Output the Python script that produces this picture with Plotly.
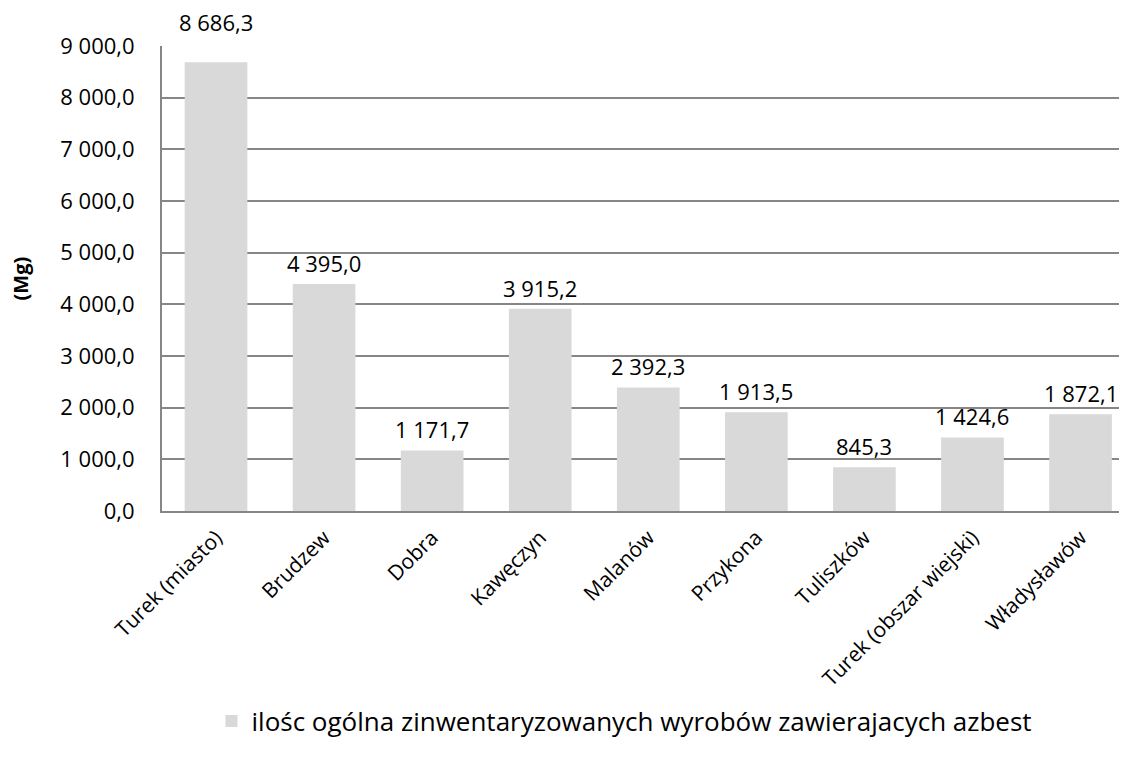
import plotly.graph_objects as go

categories = ["Turek (miasto)", "Brudzew", "Dobra", "Kawęczyn", "Malanów",
              "Przykona", "Tuliszków", "Turek (obszar wiejski)", "Władysławów"]
values = [8686.3, 4395.0, 1171.7, 3915.2, 2392.3, 1913.5, 845.3, 1424.6, 1872.1]
series_name = "ilośc ogólna zinwentaryzowanych wyrobów zawierajacych azbest"
y_ticks = [0, 1000, 2000, 3000, 4000, 5000, 6000, 7000, 8000, 9000]


def fmt(v):
    s = f"{v:,.1f}"
    return s.replace(",", " ").replace(".", ",")


FONT = "Open Sans"
OFF = 8  # page body margin
W, H = 1127 - OFF, 762 - OFF
L, T = 162 - OFF, 46 - OFF
B = H - (511 - OFF)
plot_w = W - L
plot_h = H - T - B

fig = go.Figure()
fig.add_trace(go.Bar(
    x=categories, y=values, name=series_name,
    marker=dict(color="#d9d9d9", line=dict(width=0)),
    cliponaxis=False,
))

annotations = []
for i, (c, v) in enumerate(zip(categories, values)):
    annotations.append(dict(
        x=c, y=v, xref="x", yref="y", text=fmt(v), showarrow=False,
        xanchor="center", yanchor="middle", yshift=40 if i == 0 else 21,
        font=dict(family=FONT, size=22, color="#000000")))
annotations.append(dict(text="<b>(Mg)</b>", xref="paper", yref="paper",
                        x=(20 - 162) / plot_w, y=0.5, xanchor="center", yanchor="middle",
                        textangle=-90, showarrow=False,
                        font=dict(family=FONT, size=20, color="#000000")))

fig.update_layout(
    width=W, height=H,
    margin=dict(l=L, r=0, t=T, b=B, autoexpand=False),
    paper_bgcolor="white", plot_bgcolor="white",
    bargap=0.42,
    font=dict(family=FONT, size=22, color="#000000"),
    showlegend=True,
    legend=dict(orientation="h", x=0.5 - 20 / plot_w, xanchor="center",
                y=(511 - 721) / plot_h, yanchor="middle",
                font=dict(family=FONT, size=26), itemwidth=30),
    xaxis=dict(range=[-0.5, 8.43], tickangle=-45, showline=True, linecolor="#868686",
               linewidth=2, ticks="", tickfont=dict(family=FONT, size=21),
               ticklabelstandoff=4, automargin=False),
    yaxis=dict(range=[0, 9000], tickvals=y_ticks, ticktext=[fmt(v) for v in y_ticks],
               showline=True, linecolor="#868686", linewidth=2,
               showgrid=True, gridcolor="#868686", gridwidth=1.5,
               ticks="", tickfont=dict(family=FONT, size=22),
               ticklabelstandoff=21, automargin=False),
    annotations=annotations,
)
fig.write_html("out.html")
